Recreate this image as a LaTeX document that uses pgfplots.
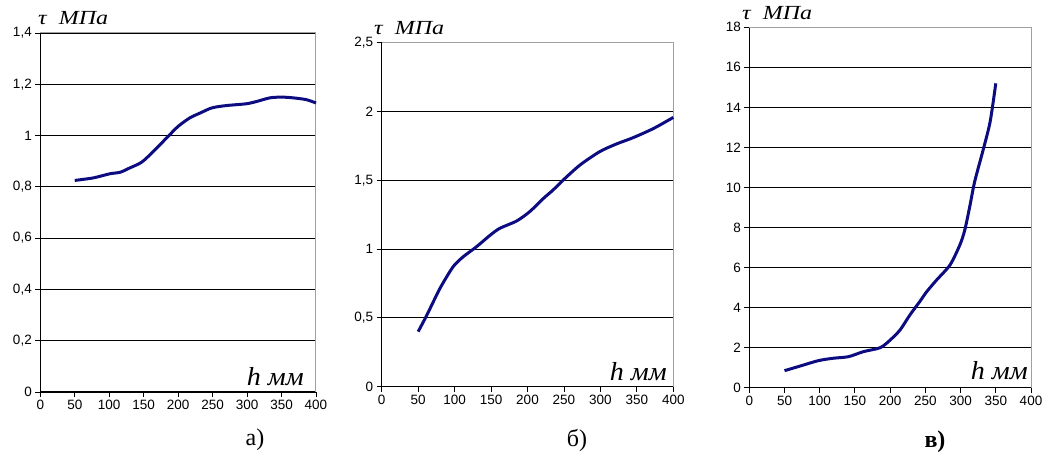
\documentclass[border=0pt]{standalone}
\usepackage{fontspec}
\setmainfont{Liberation Serif}
\newfontfamily\sansf{Liberation Sans}
\usepackage{graphicx}
\usepackage{pgfplots}
\pgfplotsset{compat=1.18}
\definecolor{navy}{RGB}{12,12,128}
\definecolor{frame}{RGB}{160,160,160}
\pgfplotsset{
  panel/.style={
    scale only axis,
    anchor=south west,
    axis lines*=left,
    axis line style={black, line width=1pt},
    xmin=0, xmax=400, xtick={0,50,...,400},
    ymajorgrids, grid style={black, line width=0.9pt},
    tick align=outside, major tick length=5pt,
    tick style={black, line width=0.9pt},
    tick label style={font=\sansf\fontsize{13.5}{15}\selectfont},
    /pgf/number format/assume math mode=true,
    /pgf/number format/use comma,
    clip=false,
  },
  curve/.style={navy, line width=3pt, smooth, tension=0.45, no marks},
}
\begin{document}
\begin{tikzpicture}[x=1pt,y=1pt]
\useasboundingbox (0,0) rectangle (1046,454);
% panel a
\begin{axis}[panel, at={(40.3pt,62pt)}, width=275.7pt, height=359pt,
  ymin=0, ymax=1.4, ytick={0,0.2,...,1.41}]
\draw[frame, line width=1pt] (rel axis cs:0,1) -- (rel axis cs:1,1) -- (rel axis cs:1,0);
\addplot[curve] coordinates {
(50,0.825) (77,0.835) (101,0.851) (116,0.857) (130,0.874) (147,0.896)
(164,0.938) (183,0.99) (200,1.036) (217,1.069) (232,1.088) (249,1.108)
(270,1.117) (299,1.124) (314,1.133) (333,1.147) (350,1.15) (367,1.147)
(386,1.14) (400,1.127)};
\end{axis}
% panel b
\begin{axis}[panel, at={(381.7pt,67.3pt)}, width=291.6pt, height=344pt,
  ymin=0, ymax=2.5, ytick={0,0.5,...,2.51}]
\draw[frame, line width=1pt] (rel axis cs:0,1) -- (rel axis cs:1,1) -- (rel axis cs:1,0);
\addplot[curve] coordinates {
(50,0.40) (62,0.521) (80,0.715) (98,0.872) (112,0.945) (130,1.017)
(149,1.102) (162,1.151) (185,1.204) (203,1.272) (222,1.369) (235,1.429)
(249,1.502) (272,1.611) (299,1.708) (322,1.764) (345,1.81) (373,1.877)
(400,1.957)};
\end{axis}
% panel c
\begin{axis}[panel, at={(749.3pt,66.3pt)}, width=281.7pt, height=360.4pt,
  ymin=0, ymax=18, ytick={0,2,...,18}]
\draw[frame, line width=1pt] (rel axis cs:0,1) -- (rel axis cs:1,1) -- (rel axis cs:1,0);
\addplot[curve] coordinates {
(50,0.85) (72,1.08) (98,1.35) (119,1.47) (141,1.55) (162,1.80) (186,2.0)
(200,2.38) (214,2.88) (228,3.63) (242,4.3) (252,4.8) (266,5.38) (285,6.13)
(299,7.13) (306,7.88) (313,9.04) (320,10.29) (332,11.87) (342,13.29) (350,15.2)};
\end{axis}
% labels
\tikzset{tlab/.style={anchor=west, font=\itshape\fontsize{20}{24}\selectfont, inner sep=0},
         hlab/.style={anchor=base east, font=\itshape\fontsize{26}{28}\selectfont, inner sep=0},
         sub/.style={font=\fontsize{24}{26}\selectfont, inner sep=0}}
\node[tlab] at (38,436) {\scalebox{1.2}[1]{τ\ \ МПа}};
\node[tlab] at (374,426) {\scalebox{1.2}[1]{τ\ \ МПа}};
\node[tlab] at (742,441) {\scalebox{1.2}[1]{τ\ \ МПа}};
\node[hlab] at (304,68) {\scalebox{1.08}[1]{h мм}};
\node[hlab] at (667,73) {\scalebox{1.08}[1]{h мм}};
\node[hlab] at (1028,74) {\scalebox{1.08}[1]{h мм}};
\node[sub] at (255,14) {а)};
\node[sub] at (577,14) {б)};
\node[sub] at (935,12) {\bfseries в)};
\end{tikzpicture}
\end{document}
